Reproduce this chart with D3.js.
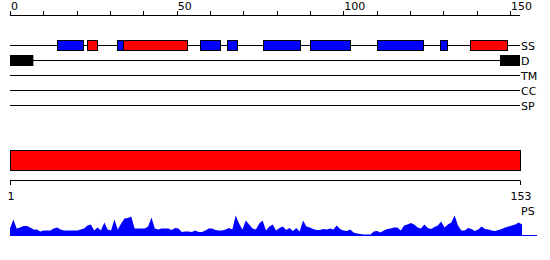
<!DOCTYPE html>
<html><head><meta charset="utf-8">
<script src="https://cdn.jsdelivr.net/npm/d3@7"></script>
<style>body{margin:0;background:#fff}svg{display:block}text{font-family:"DejaVu Sans",sans-serif;font-size:11px;fill:#000}</style>
</head><body><svg id="c" width="550" height="260"></svg>
<script>
const seqLength = 153;
const topTicks = [0,10,20,30,40,50,60,70,80,90,100,110,120,130,140,150];
const topTickLabels = [0,50,100,150];
const rowNames = ["SS","D","TM","CC","SP"];
const ssStart = [14,23,32,34,57,65,76,90,110,129,138];
const ssEnd   = [22,26,34,53,63,68,87,102,124,131,149];
const ssType  = ["E","H","E","H","E","E","E","E","E","E","H"];
const disStart = [0,147];
const disEnd   = [7,153];
const domainStart = [1];
const domainEnd = [153];
const bottomTicks = [1,153];
const profile = [7,16,7,8,9.5,9.5,8,6,6,4,5,5,5,7,8,6,5,5,5,5,5,6,7,10,11,5,8,5,13,6,5,16,6,12,17,17.5,19,7,7,7,
7,9,18,7,6,7,7,7,5.5,7.5,7,3.5,4,4,3.5,5,3.5,3.5,5,7,7,5.5,5,5,6,7.5,6,20,12,6,15,11,7,6,12,15,5,9,11,5,
7.5,9,5.5,7.5,4.5,7.5,4,15,9,8,6.5,5.5,5.5,6.5,6,7,6,10,6.5,5,4.5,6,3,2,1.5,1,1,1,4,4.5,3,5,6.5,7,8,8,5,10,11,12.5,
11,8,7,11,7.5,6.5,8.5,10,14,8,11,13,20,10,5,5,7.5,6.5,4.5,6,9,6.5,6,5,4.5,5.5,6.5,8,9,10,11,13,11];

const svg = d3.select("#c");
const x = d3.scaleLinear().domain([0, seqLength]).range([10, 520]);
const row = d3.scalePoint().domain(rowNames).range([45.5, 105.5]);
const colour = {E:"#0000ff", H:"#ff0000"};

// top axis
const topAxis = svg.append("g");
topAxis.append("line").attr("x1", x(0)).attr("x2", x(seqLength)).attr("y1", 15.5).attr("y2", 15.5).attr("stroke", "#000");
topAxis.selectAll("line.t").data(topTicks).join("line").attr("class","t")
  .attr("x1", d => Math.round(x(d)) + 0.5).attr("x2", d => Math.round(x(d)) + 0.5)
  .attr("y1", 11).attr("y2", 15.5).attr("stroke", "#000");
topAxis.selectAll("text").data(topTickLabels).join("text")
  .attr("x", d => x(d) + 1).attr("y", 10).text(d => d);

// row lines
svg.selectAll("line.row").data(rowNames).join("line").attr("class","row")
  .attr("x1", x(0)).attr("x2", x(seqLength)).attr("y1", d => row(d)).attr("y2", d => row(d)).attr("stroke", "#000");
svg.selectAll("text.row").data(rowNames).join("text").attr("class","row")
  .attr("x", x(seqLength) + 1).attr("y", d => row(d) + 4.5).text(d => d);

// SS boxes
svg.selectAll("rect.ss").data(ssStart.map((s,i) => ({s, e: ssEnd[i], t: ssType[i]}))).join("rect").attr("class","ss")
  .attr("x", d => Math.round(x(d.s)) + 0.5).attr("width", d => Math.round(x(d.e)) - Math.round(x(d.s)))
  .attr("y", row("SS") - 5).attr("height", 10)
  .attr("fill", d => colour[d.t]).attr("stroke", "#000");

// disorder boxes
svg.selectAll("rect.dis").data(disStart.map((s,i) => ({s, e: disEnd[i]}))).join("rect").attr("class","dis")
  .attr("x", d => x(d.s)).attr("width", d => x(d.e) - x(d.s))
  .attr("y", row("D") - 5.5).attr("height", 11).attr("fill", "#000");

// domain bar
const xd = d3.scaleLinear().domain([1, seqLength]).range([10, 520]);
svg.selectAll("rect.dom").data(domainStart.map((s,i) => ({s, e: domainEnd[i]}))).join("rect").attr("class","dom")
  .attr("x", d => xd(d.s) + 0.5).attr("width", d => xd(d.e) - xd(d.s))
  .attr("y", 150.5).attr("height", 20).attr("fill", "#ff0000").attr("stroke", "#000");

// bottom axis
const botAxis = svg.append("g");
botAxis.append("line").attr("x1", xd(1)).attr("x2", xd(seqLength)).attr("y1", 180.5).attr("y2", 180.5).attr("stroke", "#000");
botAxis.selectAll("line.t").data(bottomTicks).join("line").attr("class","t")
  .attr("x1", d => xd(d) + 0.5).attr("x2", d => xd(d) + 0.5).attr("y1", 180.5).attr("y2", 185).attr("stroke", "#000");
botAxis.selectAll("text").data(bottomTicks).join("text")
  .attr("x", d => xd(d) + 1).attr("y", 200).attr("text-anchor", "middle").text(d => d);
svg.append("text").attr("x", 521).attr("y", 215).text("PS");

// profile
const xp = d3.scaleLinear().domain([1, seqLength]).range([10, 522]);
const yp = d3.scaleLinear().domain([0, 25]).range([235.5, 210.5]);
svg.append("path").datum(profile)
  .attr("d", d3.area().x((d,i) => xp(i + 1)).y0(yp(0)).y1(d => yp(d)))
  .attr("fill", "#0000ff");
svg.append("line").attr("x1", xp(1)).attr("x2", 537).attr("y1", yp(0)).attr("y2", yp(0)).attr("stroke", "#0000ff");
</script></body></html>
